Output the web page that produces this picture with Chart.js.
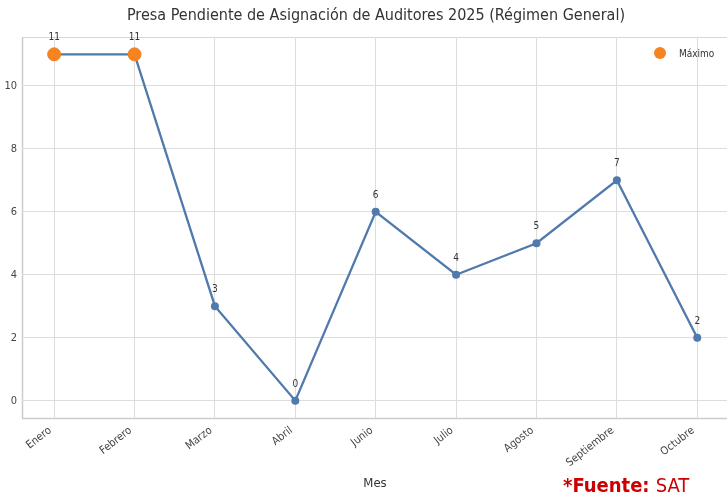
<!DOCTYPE html>
<html>
<head>
<meta charset="utf-8">
<script src="https://cdn.jsdelivr.net/npm/chart.js@4"></script>
<style>
    body { margin: 0; background: #fff; }
</style>
</head>
<body>
<canvas id="presaChart" width="727" height="499"></canvas>
<script>

let meses = ["Enero", "Febrero", "Marzo", "Abril", "Junio", "Julio", "Agosto", "Septiembre", "Octubre"];
let presa = [11, 11, 3, 0, 6, 4, 5, 7, 2];
let yTicks = [0, 2, 4, 6, 8, 10];

let fuente = "'DejaVu Sans Condensed', 'DejaVu Sans', sans-serif";
let azul = "#5079ac";
let naranja = "#f5831f";

let maximo = Math.max(...presa);
let puntos = presa.map(function (v, i) { return { x: i, y: v }; });
let puntosMax = presa.map(function (v, i) { return v === maximo ? { x: i, y: v } : null; }).filter(Boolean);

// marco, titulo, etiquetas, leyenda y fuente
let extras = {
    id: "extras",
    beforeDraw(chart) {
        let c = chart.ctx;
        let a = chart.chartArea;
        c.save();
        c.strokeStyle = "#d6d6d6";
        c.lineWidth = 1;
        c.strokeRect(a.left + 0.5, a.top + 0.5, a.right - a.left, a.bottom - a.top);
        c.strokeStyle = "#cccccc";
        c.lineWidth = 1.5;
        c.beginPath();
        c.moveTo(a.left + 0.5, a.top);
        c.lineTo(a.left + 0.5, a.bottom + 0.5);
        c.lineTo(a.right, a.bottom + 0.5);
        c.stroke();
        c.restore();
    },
    afterDatasetsDraw(chart) {
        let c = chart.ctx;
        let meta = chart.getDatasetMeta(1);
        c.save();
        c.fillStyle = "#333";
        c.font = "10px " + fuente;
        c.textAlign = "center";
        c.textBaseline = "alphabetic";
        meta.data.forEach(function (p, i) {
            c.fillText(String(presa[i]), p.x, p.y - 14);
        });

        c.font = "16px " + fuente;
        c.fillStyle = "#333";
        c.fillText("Presa Pendiente de Asignación de Auditores 2025 (Régimen General)", 376, 20);

        c.font = "13px " + fuente;
        c.fillText("Mes", 375, 487);

        // leyenda
        c.fillStyle = naranja;
        c.beginPath();
        c.arc(660, 53, 6, 0, Math.PI * 2);
        c.fill();
        c.fillStyle = "#333";
        c.font = "10px " + fuente;
        c.textAlign = "left";
        c.fillText("Máximo", 679, 57);

        // fuente
        c.fillStyle = "#cc0000";
        c.font = "bold 20px " + fuente;
        let t1 = "*Fuente: ";
        c.fillText(t1, 563, 492);
        let w = c.measureText(t1).width;
        c.font = "20px " + fuente;
        c.fillText("SAT", 563 + w, 492);
        c.restore();
    }
};

const ctx = document.getElementById("presaChart");

new Chart(ctx, {
    type: "line",

    data: {
        datasets: [{
            label: "Máximo",
            data: puntosMax,
            showLine: false,
            pointRadius: 6.5,
            pointBackgroundColor: naranja,
            pointBorderColor: naranja,
            order: 0
        }, {
            label: "Presa",
            data: puntos,
            borderColor: azul,
            backgroundColor: azul,
            borderWidth: 2.3,
            pointRadius: 4,
            pointBackgroundColor: azul,
            pointBorderWidth: 0,
            tension: 0,
            order: 1
        }]
    },

    options: {
        responsive: false,
        animation: false,
        devicePixelRatio: 1,
        layout: { autoPadding: false, padding: { top: 37, left: 0, right: 0, bottom: 0 } },
        plugins: {
            legend: { display: false },
            title: { display: false },
            tooltip: { enabled: false }
        },
        scales: {
            x: {
                type: "linear",
                min: -0.4,
                max: 8.37,
                afterFit: function (scale) {
                    scale.height = 81;
                },
                afterBuildTicks: function (scale) {
                    scale.ticks = meses.map(function (m, i) { return { value: i }; });
                },
                ticks: {
                    minRotation: 38,
                    maxRotation: 38,
                    autoSkip: false,
                    padding: 6,
                    labelOffset: -4,
                    color: "#444",
                    font: { family: fuente, size: 11 },
                    callback: function (v) { return meses[v]; }
                },
                grid: { color: "#dddddd", drawTicks: false },
                border: { display: false }
            },
            y: {
                min: -0.55,
                max: 11.55,
                afterFit: function (scale) { scale.width = 22; },
                afterBuildTicks: function (scale) {
                    scale.ticks = yTicks.map(function (v) { return { value: v }; });
                },
                ticks: {
                    padding: 5,
                    color: "#444",
                    font: { family: fuente, size: 11 }
                },
                grid: { color: "#dddddd", drawTicks: false },
                border: { display: false }
            }
        }
    },
    plugins: [extras]
});

</script>
</body>
</html>
